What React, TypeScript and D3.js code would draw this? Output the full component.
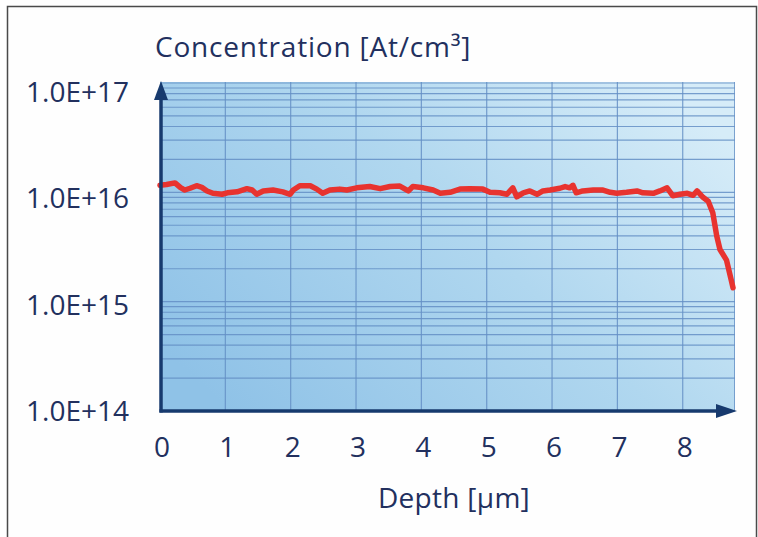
import React from "react";
import * as d3 from "d3";

const depth = [0, 0.10, 0.23, 0.31, 0.38, 0.46, 0.56, 0.64, 0.72, 0.81, 0.95, 1.03, 1.18, 1.33, 1.41, 1.48, 1.58, 1.73, 1.88, 1.99, 2.04, 2.14, 2.30, 2.40, 2.49, 2.60, 2.75, 2.86, 3.01, 3.21, 3.37, 3.52, 3.67, 3.80, 3.87, 4.03, 4.18, 4.29, 4.44, 4.59, 4.74, 4.94, 5.05, 5.20, 5.31, 5.40, 5.46, 5.56, 5.66, 5.77, 5.86, 5.97, 6.12, 6.20, 6.27, 6.32, 6.37, 6.47, 6.63, 6.78, 6.89, 6.99, 7.14, 7.30, 7.39, 7.55, 7.65, 7.76, 7.85, 7.96, 8.07, 8.16, 8.22, 8.31, 8.39, 8.46, 8.52, 8.57, 8.67, 8.74, 8.77];
const concentration = [1.16e16, 1.18e16, 1.22e16, 1.11e16, 1.05e16, 1.09e16, 1.15e16, 1.11e16, 1.03e16, 9.8e15, 9.6e15, 9.9e15, 1.01e16, 1.08e16, 1.05e16, 9.6e15, 1.03e16, 1.05e16, 1.01e16, 9.6e15, 1.05e16, 1.15e16, 1.15e16, 1.07e16, 9.8e15, 1.05e16, 1.07e16, 1.05e16, 1.1e16, 1.13e16, 1.08e16, 1.13e16, 1.14e16, 1.03e16, 1.13e16, 1.1e16, 1.05e16, 9.8e15, 1.0e16, 1.07e16, 1.08e16, 1.07e16, 1.0e16, 9.9e15, 9.6e15, 1.1e16, 9.1e15, 9.9e15, 1.03e16, 9.6e15, 1.03e16, 1.05e16, 1.09e16, 1.13e16, 1.1e16, 1.16e16, 9.9e15, 1.03e16, 1.05e16, 1.05e16, 1.0e16, 9.8e15, 1.0e16, 1.03e16, 9.9e15, 9.8e15, 1.03e16, 1.1e16, 9.3e15, 9.6e15, 9.8e15, 9.4e15, 1.03e16, 9.0e15, 8.3e15, 6.5e15, 4.0e15, 3.0e15, 2.4e15, 1.6e15, 1.34e15];

const xTicks = [0, 1, 2, 3, 4, 5, 6, 7, 8];
const yDecades = [1e14, 1e15, 1e16, 1e17];
const yLabels = ["1.0E+14", "1.0E+15", "1.0E+16", "1.0E+17"];
const yTitle = "Concentration [At/cm³]";
const xTitle = "Depth [μm]";

export default function App() {
  const W = 758, H = 537;
  const left = 160, right = 735, top = 82, bottom = 411;
  const x = d3.scaleLinear().domain([0, 8.8]).range([left, right]);
  const y = d3.scaleLog().domain([1e14, 1e17]).range([bottom, 83]);
  const yLab = d3.scaleLog().domain([1e14, 1e17]).range([411, 92]);

  const minor: number[] = [];
  for (let e = 14; e < 17; e++) {
    for (let k = 1; k <= 9; k++) minor.push(k * Math.pow(10, e));
  }
  minor.push(1e17);

  const pts = depth.map((d, i) => [d, concentration[i]] as [number, number]);
  const line = d3.line<[number, number]>().x(d => x(d[0])).y(d => y(d[1])).curve(d3.curveLinear);

  const font = "'Open Sans', 'DejaVu Sans', sans-serif";
  const txt = "#22305e";
  const axisC = "#173a6e";
  const gridC = "#6590c6";

  return (
    <svg width={W} height={H} style={{ position: "absolute", left: 0, top: 0 }} xmlns="http://www.w3.org/2000/svg">
      <defs>
        <linearGradient id="bg" x1="0" y1="0.8" x2="1" y2="0.2">
          <stop offset="0%" stopColor="#8fc2e7" />
          <stop offset="55%" stopColor="#b0d7ef" />
          <stop offset="100%" stopColor="#d6ecf8" />
        </linearGradient>
      </defs>
      <rect x={0} y={0} width={W} height={H} fill="#ffffff" />
      <rect x={7.5} y={6.5} width={749} height={545} fill="#fefefe" stroke="#4a4a4a" strokeWidth={1.5} />
      <rect x={left} y={top} width={right - left} height={bottom - top} fill="url(#bg)" />
      {minor.map((v, i) => (
        <line key={"h" + i} x1={left} x2={right} y1={y(v)} y2={y(v)} stroke={gridC} strokeWidth={1.2} opacity={0.85} />
      ))}
      {xTicks.slice(1).map(t => (
        <line key={"v" + t} x1={x(t)} x2={x(t)} y1={top} y2={bottom} stroke={gridC} strokeWidth={1.2} opacity={0.85} />
      ))}
      <line x1={right - 0.5} x2={right - 0.5} y1={top} y2={bottom} stroke={gridC} strokeWidth={1} opacity={0.8} />
      <path d={line(pts) || ""} fill="none" stroke="#e8332f" strokeWidth={5.5} strokeLinejoin="round" strokeLinecap="round" />
      <line x1={161} x2={161} y1={bottom + 1.5} y2={98} stroke={axisC} strokeWidth={3.5} />
      <polygon points={`161,81 154,100 168,100`} fill={axisC} />
      <line x1={159.5} x2={718} y1={bottom} y2={bottom} stroke={axisC} strokeWidth={3.5} />
      <polygon points={`737,${bottom} 716,${bottom - 7} 716,${bottom + 7}`} fill={axisC} />
      {yDecades.map((v, i) => (
        <text key={"yl" + i} x={129} y={yLab(v) + 10} textAnchor="end" fontFamily={font} fontSize={28} fill={txt}>{yLabels[i]}</text>
      ))}
      {xTicks.map(t => (
        <text key={"xl" + t} x={x(t) + 2} y={457} textAnchor="middle" fontFamily={font} fontSize={28} fill={txt}>{t}</text>
      ))}
      <text x={155} y={57} fontFamily={font} fontSize={28} letterSpacing={0.8} fill={txt}>{yTitle}</text>
      <text x={454} y={508} textAnchor="middle" fontFamily={font} fontSize={28} letterSpacing={0.3} fill={txt}>{xTitle}</text>
    </svg>
  );
}
